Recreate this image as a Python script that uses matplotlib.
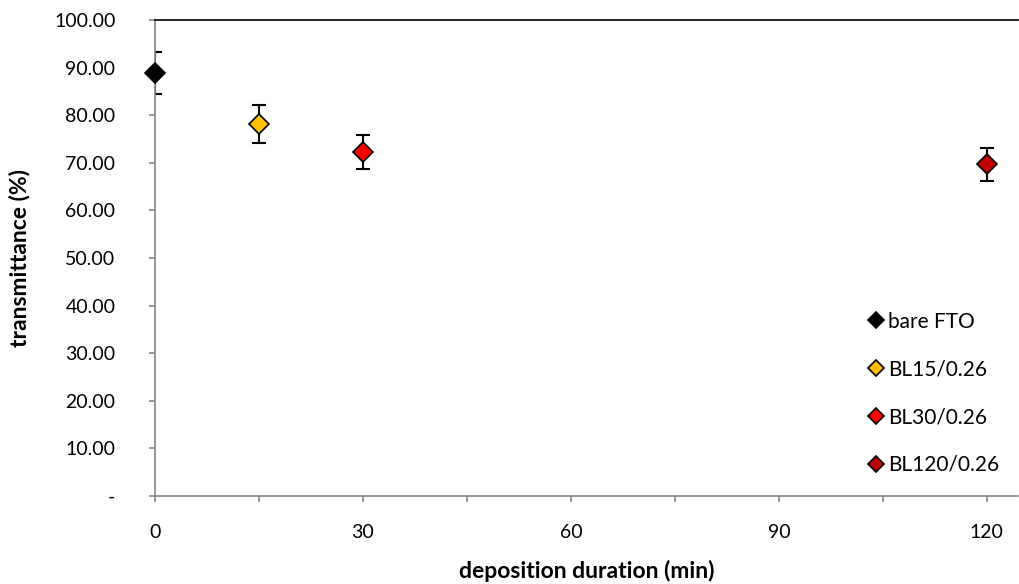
import numpy as np
import matplotlib.pyplot as plt
from matplotlib.ticker import FuncFormatter, MultipleLocator

plt.rcParams['font.family'] = ['Lato', 'DejaVu Sans']

labels = ["bare FTO", "BL15/0.26", "BL30/0.26", "BL120/0.26"]
duration = [0, 15, 30, 120]
transmittance = [88.9, 78.1, 72.3, 69.7]
errors = [4.4, 4.0, 3.6, 3.5]
colors = ["#000000", "#FFC000", "#FF0000", "#C00000"]

fig = plt.figure(figsize=(10.2, 5.84), dpi=100)
ax = fig.add_axes([0.152, 0.1507, 0.846, 0.8151])

for x, y, e, c, lab in zip(duration, transmittance, errors, colors, labels):
    ax.errorbar(x, y, yerr=e, fmt='none', ecolor='black', elinewidth=1.5,
                capsize=5, capthick=1.5, zorder=2)
    ax.plot(x, y, 'D', color=c, markeredgecolor='black', markeredgewidth=1.2,
            markersize=10, label=lab, zorder=3, clip_on=False)

ax.set_xlim(0, 124.5)
ax.set_ylim(0, 100)
ax.xaxis.set_major_locator(MultipleLocator(30))
ax.xaxis.set_minor_locator(MultipleLocator(15))
ax.yaxis.set_major_locator(MultipleLocator(10))
ax.yaxis.set_major_formatter(FuncFormatter(lambda v, p: '-' if v == 0 else f"{v:.2f}"))

for s in ['left', 'bottom']:
    ax.spines[s].set_color('#868686')
    ax.spines[s].set_linewidth(1.2)
ax.spines['right'].set_visible(False)
ax.spines['top'].set_color('black')
ax.spines['top'].set_linewidth(1.2)

ax.tick_params(axis='both', which='both', color='#868686', width=1.2, length=4.5,
               labelsize=14)
ax.tick_params(axis='y', pad=24)
ax.tick_params(axis='x', pad=16)

ax.set_xlabel("deposition duration (min)", fontsize=16.5, fontweight='bold', labelpad=13)
ax.set_ylabel("transmittance (%)", fontsize=16.5, fontweight='bold', labelpad=17)

leg = ax.legend(loc='lower right', bbox_to_anchor=(1.0, 0.005), frameon=False,
                fontsize=15, handletextpad=0.1, labelspacing=1.33,
                markerscale=0.8, handlelength=1.0)

fig.savefig("out.png", dpi=100)
